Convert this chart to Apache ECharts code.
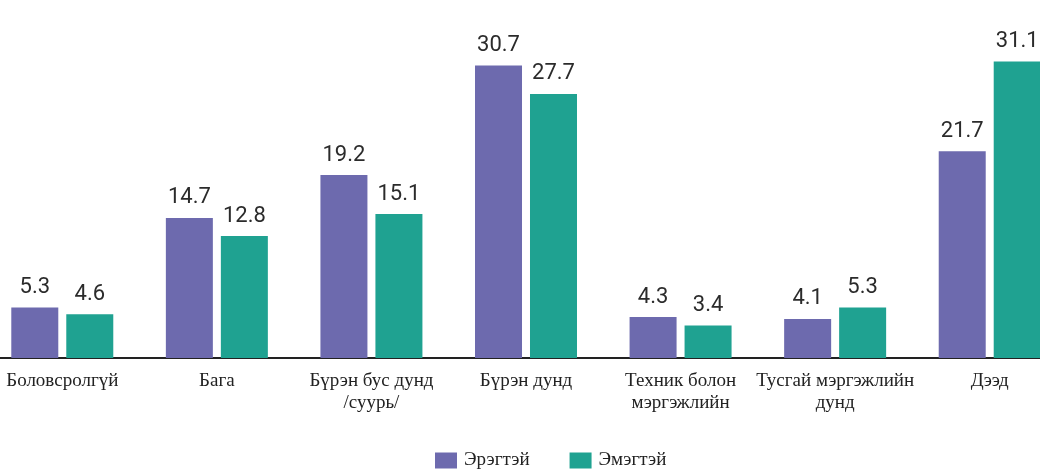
<!DOCTYPE html>
<html>
<head>
<meta charset="utf-8">
<script src="https://cdn.jsdelivr.net/npm/echarts@6/dist/echarts.min.js"></script>
<style>
html,body{margin:0;padding:0;background:#fff;}
#chart{width:1040px;height:469px;}
</style>
</head>
<body>
<div id="chart"></div>
<script>
const categories = ['Боловсролгүй', 'Бага', 'Бүрэн бус дунд\n/суурь/', 'Бүрэн дунд', 'Техник болон\nмэргэжлийн', 'Тусгай мэргэжлийн\nдунд', 'Дээд'];
const seriesNames = ['Эрэгтэй', 'Эмэгтэй'];
const maleValues = [5.3, 14.7, 19.2, 30.7, 4.3, 4.1, 21.7];
const femaleValues = [4.6, 12.8, 15.1, 27.7, 3.4, 5.3, 31.1];

const chart = echarts.init(document.getElementById('chart'));
const labelStyle = {
  show: true, position: 'top', distance: 9,
  fontFamily: 'Roboto', fontSize: 22, color: '#2b2b2b',
  formatter: p => p.value.toFixed(1)
};
chart.setOption({
  animation: false,
  grid: { left: -15, right: -27, top: 53, bottom: 111, outerBoundsMode: 'none', containLabel: false },
  legend: {
    left: 430, top: 446, itemWidth: 22, itemHeight: 16, itemGap: 40,
    icon: 'rect',
    textStyle: { fontFamily: 'Liberation Serif', fontSize: 19, color: '#222', padding: [0,0,0,2] },
    data: seriesNames
  },
  xAxis: {
    type: 'category', data: categories,
    axisLine: { lineStyle: { color: '#222', width: 2 } },
    axisTick: { show: false },
    axisLabel: { interval: 0, margin: 12, fontFamily: 'Liberation Serif', fontSize: 19, color: '#222', lineHeight: 22 }
  },
  yAxis: { type: 'value', min: 0, max: 32, show: false, splitLine: { show: false } },
  series: [
    { name: seriesNames[0], type: 'bar', data: maleValues, barWidth: 47, barGap: '17%',
      itemStyle: { color: '#6d6aae' }, label: labelStyle },
    { name: seriesNames[1], type: 'bar', data: femaleValues, barWidth: 47,
      itemStyle: { color: '#1fa291' }, label: labelStyle }
  ]
});
</script>
</body>
</html>
